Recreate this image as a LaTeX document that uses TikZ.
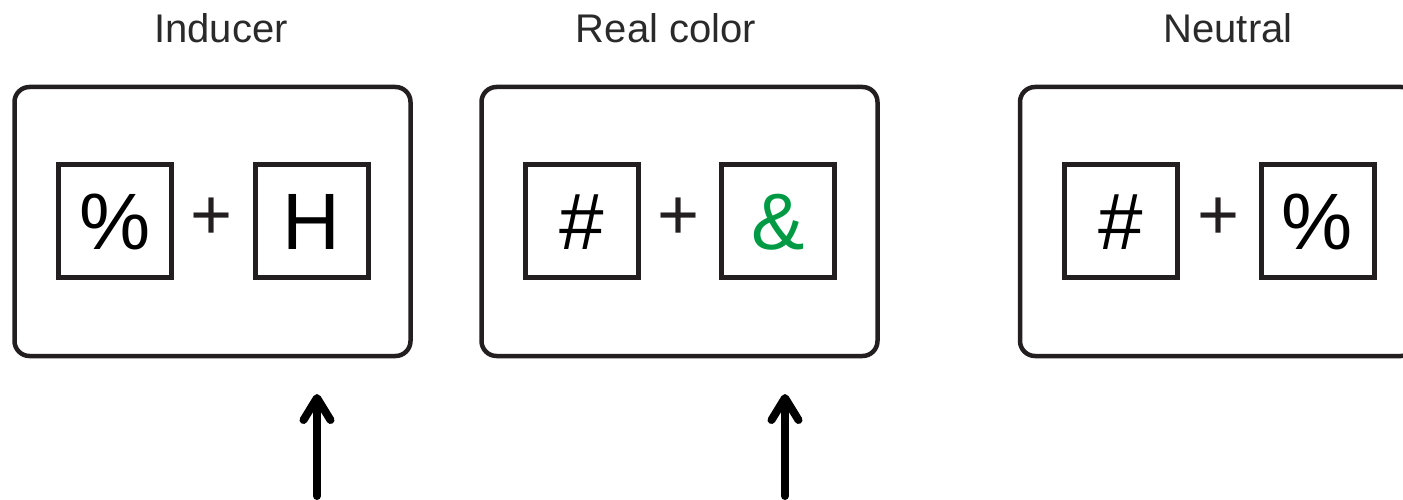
\documentclass[tikz,border=0pt]{standalone}
\usepackage{fontspec}
\setmainfont{Liberation Sans}
\usetikzlibrary{arrows.meta}
\definecolor{ink}{HTML}{231F20}
\definecolor{amp}{HTML}{009A44}
\definecolor{titlegray}{HTML}{2A2A2A}
\tikzset{
  outerbox/.style={draw=ink, line width=4.5pt, rounded corners=15pt, minimum width=396pt, minimum height=269pt, inner sep=0pt},
  symbox/.style={draw=ink, line width=5pt, minimum width=113pt, minimum height=112pt, inner sep=0pt, text height=57pt, text depth=0pt, font=\fontsize{80}{96}\selectfont},
  plussign/.style={inner sep=0pt, text=ink, font=\fontsize{72}{86}\selectfont},
  title/.style={anchor=base, text=titlegray, font=\fontsize{40}{48}\selectfont},
  uparrow/.style={draw=black, line width=8pt, line cap=round, -{Straight Barb[length=22pt, width=27pt, round]}}
}
\begin{document}
\begin{tikzpicture}[x=1pt, y=-1pt]
\useasboundingbox (0,0) rectangle (1403,500);
\clip (0,0) rectangle (1403,500);
% titles
\node[title] (t1) at (221,43) {Inducer};
\node[title] (t2) at (666,43) {Real color};
\node[title] (t3) at (1228,43) {Neutral};
% outer boxes
\node[outerbox] (b1) at (212.5,221.5) {};
\node[outerbox] (b2) at (679.5,221.5) {};
\node[outerbox] (b3) at (1218,221.5) {};
% inner boxes
\node[symbox] (s11) at (115,221) {\%};
\node[symbox] (s12) at (311.5,221) {H};
\node[symbox] (s21) at (581.5,221) {\#};
\node[symbox, text=amp] (s22) at (778,221) {\&};
\node[symbox] (s31) at (1121,221) {\#};
\node[symbox] (s32) at (1317.5,221) {\%};
% plus signs
\node[plussign] (p1) at (212,219) {+};
\node[plussign] (p2) at (679,219) {+};
\node[plussign] (p3) at (1219,219) {+};
% arrows
\coordinate (a1s) at (317,496);
\coordinate (a1e) at (317,394);
\coordinate (a2s) at (785,496);
\coordinate (a2e) at (785,394);
\draw[uparrow] (a1s) -- (a1e);
\draw[uparrow] (a2s) -- (a2e);
\end{tikzpicture}
\end{document}
